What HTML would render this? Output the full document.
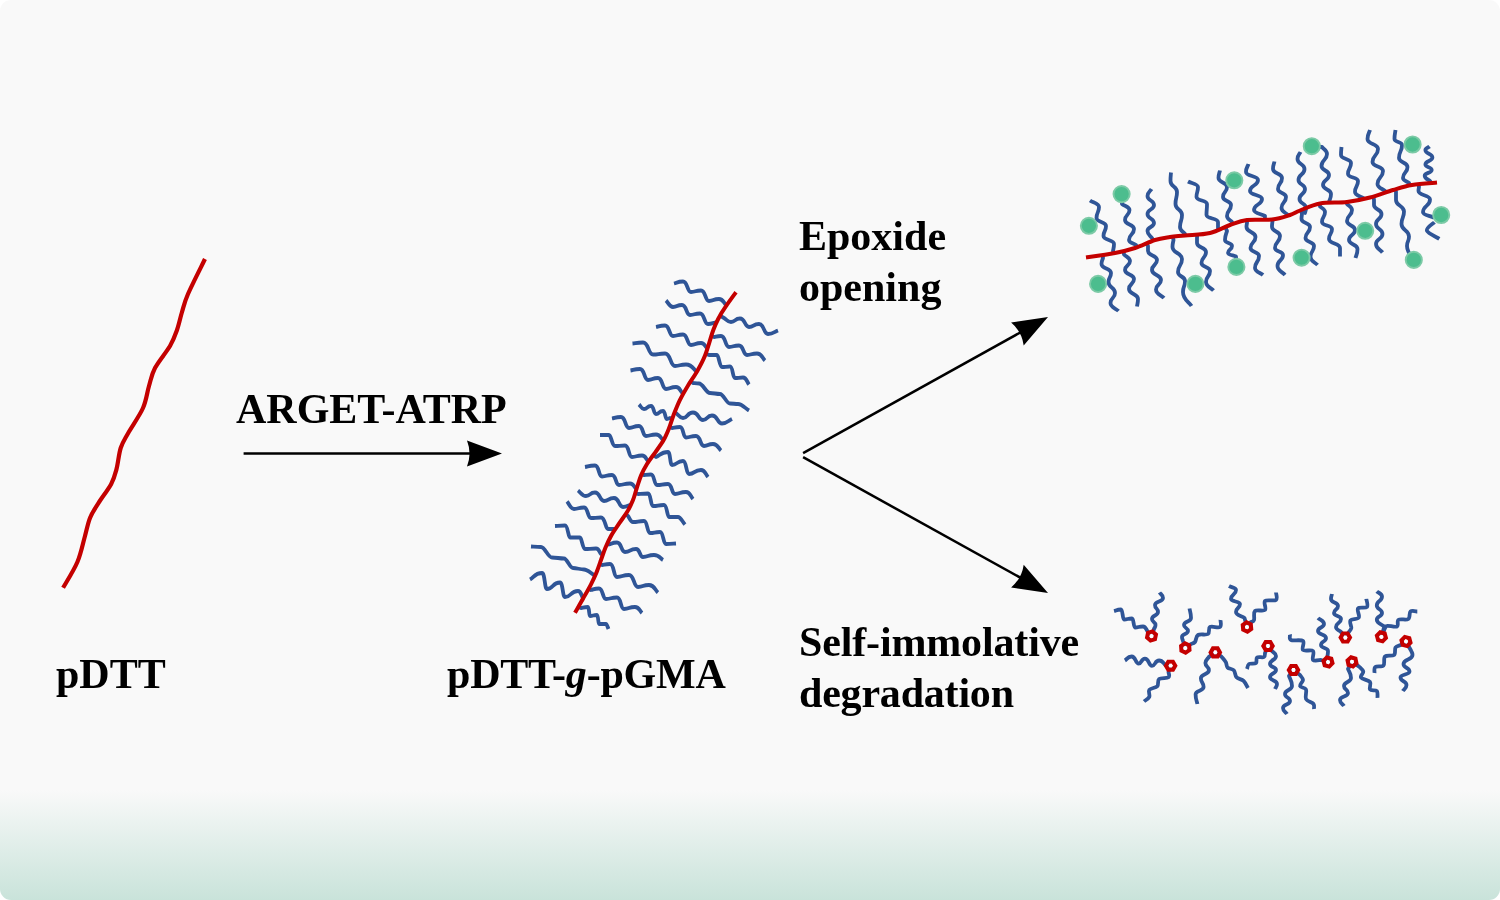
<!DOCTYPE html>
<html><head><meta charset="utf-8"><style>
html,body{margin:0;padding:0;background:#fff;width:1500px;height:900px;overflow:hidden}
.card{position:absolute;left:0;top:0;width:1500px;height:900px;border-radius:11px;overflow:hidden;
background:linear-gradient(to bottom,#f9f9f9 0px,#f9f9f9 790px,#c9e3da 900px)}
svg{position:absolute;left:0;top:0;will-change:transform}
svg text{font-family:"Liberation Serif",serif;font-weight:bold;font-size:42px;fill:#000}
</style></head><body>
<div class="card">
<svg width="1500" height="900" viewBox="0 0 1500 900">
<line x1="243.6" y1="453.4" x2="473.0" y2="453.4" stroke="#000" stroke-width="2.5"/><path d="M502.0,453.4 L467.0,466.4 Q472.0,453.4 467.0,440.4 Z" fill="#000"/>
<line x1="803.1" y1="453.1" x2="1022.7" y2="331.1" stroke="#000" stroke-width="2.5"/><path d="M1048.0,317.0 L1023.7,345.4 Q1021.8,331.6 1011.1,322.6 Z" fill="#000"/>
<line x1="803.1" y1="457.2" x2="1022.6" y2="578.9" stroke="#000" stroke-width="2.5"/><path d="M1048.0,593.0 L1011.1,587.4 Q1021.8,578.5 1023.7,564.7 Z" fill="#000"/>

<text x="236" y="423">ARGET-ATRP</text>
<text x="56" y="687.5">pDTT</text>
<text x="447" y="687.5" letter-spacing="-0.2">pDTT-<tspan font-style="italic">g</tspan>-pGMA</text>
<text x="799" y="249.5">Epoxide</text>
<text x="799" y="300.5">opening</text>
<text x="799" y="656" letter-spacing="-0.15">Self-immolative</text>
<text x="799" y="706.5" letter-spacing="-0.2">degradation</text>

<path d="M63.1,587.8 C65.5,583.5 73.8,570.5 77.4,562.0 C81.0,553.5 82.7,544.1 84.8,536.7 C86.9,529.3 87.8,523.3 90.1,517.7 C92.4,512.1 95.1,508.5 98.6,502.9 C102.1,497.3 108.2,489.5 111.2,483.9 C114.2,478.3 114.9,475.1 116.5,469.1 C118.1,463.1 118.8,454.0 120.7,448.0 C122.6,442.0 124.4,439.9 128.1,433.2 C131.8,426.5 139.5,415.9 143.0,408.0 C146.5,400.1 147.0,392.7 149.0,386.0 C151.0,379.3 151.5,374.7 155.0,368.0 C158.5,361.3 166.3,352.3 170.0,346.0 C173.7,339.7 175.0,335.7 177.0,330.0 C179.0,324.3 180.2,318.0 182.0,312.0 C183.8,306.0 184.2,302.8 188.0,294.0 C191.8,285.2 202.2,264.8 205.0,259.0" fill="none" stroke="#c40000" stroke-width="4.2" stroke-linecap="butt" stroke-linejoin="round"/>
<path d="M674.0,283.5 C677.0,282.8 677.6,281.5 683.0,281.5 C687.8,281.5 687.0,292.0 691.0,292.0 C696.0,292.0 695.0,290.5 701.0,290.5 C705.8,290.5 705.0,301.0 709.0,301.0 C714.0,301.0 713.0,299.0 719.0,299.0 C723.2,299.0 723.7,303.0 726.0,305.0 L726.4,305.5" fill="none" stroke="#2f5597" stroke-width="3.8" stroke-linecap="butt" stroke-linejoin="round"/>
<path d="M666.0,300.5 C668.3,302.6 669.5,307.0 673.0,307.0 C677.5,307.0 676.6,305.0 682.0,305.0 C686.8,305.0 686.0,315.0 690.0,315.0 C695.0,315.0 694.0,313.5 700.0,313.5 C704.8,313.5 704.0,324.0 708.0,324.0 C711.5,324.0 712.7,323.0 715.0,322.5 L716.1,323.2" fill="none" stroke="#2f5597" stroke-width="3.8" stroke-linecap="butt" stroke-linejoin="round"/>
<path d="M720.0,315.7 L724.0,318.0 C726.3,319.3 727.5,322.0 731.0,322.0 C735.5,322.0 734.6,318.5 740.0,318.5 C745.4,318.5 744.5,327.0 749.0,327.0 C754.0,327.0 753.0,324.0 759.0,324.0 C764.4,324.0 763.5,334.0 768.0,334.0 C773.0,334.0 774.7,331.7 778.0,330.5" fill="none" stroke="#2f5597" stroke-width="3.8" stroke-linecap="butt" stroke-linejoin="round"/>
<path d="M656.0,327.0 C659.0,326.5 659.6,325.5 665.0,325.5 C669.8,325.5 669.0,336.0 673.0,336.0 C678.0,336.0 677.0,334.5 683.0,334.5 C687.8,334.5 687.0,345.0 691.0,345.0 C696.0,345.0 695.0,343.0 701.0,343.0 C704.6,343.0 705.0,346.4 707.0,348.0 L707.6,348.1" fill="none" stroke="#2f5597" stroke-width="3.8" stroke-linecap="butt" stroke-linejoin="round"/>
<path d="M711.3,336.2 L714.0,337.0 C716.3,336.7 716.8,336.0 721.0,336.0 C725.8,336.0 725.0,347.0 729.0,347.0 C734.0,347.0 733.0,345.5 739.0,345.5 C743.8,345.5 743.0,355.0 747.0,355.0 C752.0,355.0 751.0,353.5 757.0,353.5 C761.8,353.5 762.4,358.2 765.0,360.5" fill="none" stroke="#2f5597" stroke-width="3.8" stroke-linecap="butt" stroke-linejoin="round"/>
<path d="M632.5,343.5 C636.0,343.2 636.7,342.5 643.0,342.5 C649.0,342.5 648.0,354.5 653.0,354.5 C659.0,354.5 657.8,353.5 665.0,353.5 C671.0,353.5 670.0,366.0 675.0,366.0 C680.5,366.0 679.4,364.5 686.0,364.5 C692.6,364.5 693.4,369.5 697.0,372.0" fill="none" stroke="#2f5597" stroke-width="3.8" stroke-linecap="butt" stroke-linejoin="round"/>
<path d="M705.8,353.8 L709.0,355.0 C711.6,355.0 714.1,355.0 717.0,355.0 C718.8,355.0 719.5,367.0 722.0,367.0 C726.0,367.0 725.2,366.5 730.0,366.5 C733.0,366.5 732.5,378.0 735.0,378.0 C739.0,378.0 738.2,377.5 743.0,377.5 C746.6,377.5 747.0,382.2 749.0,384.5" fill="none" stroke="#2f5597" stroke-width="3.8" stroke-linecap="butt" stroke-linejoin="round"/>
<path d="M630.5,370.5 C633.6,370.0 634.3,369.0 640.0,369.0 C644.8,369.0 644.0,380.0 648.0,380.0 C653.0,380.0 652.0,378.0 658.0,378.0 C662.8,378.0 662.0,389.0 666.0,389.0 C671.0,389.0 670.0,387.0 676.0,387.0 C679.6,387.0 680.0,390.7 682.0,392.5 L683.5,393.2" fill="none" stroke="#2f5597" stroke-width="3.8" stroke-linecap="butt" stroke-linejoin="round"/>
<path d="M690.7,381.3 L693.0,383.0 C695.0,383.2 696.8,383.5 699.0,383.5 C703.0,383.5 706.0,393.0 710.0,393.0 C713.6,393.0 716.4,394.0 720.0,394.0 C723.6,394.0 726.4,403.5 730.0,403.5 C732.9,403.5 735.1,404.0 738.0,404.0 C742.0,404.0 745.4,408.4 749.0,410.5" fill="none" stroke="#2f5597" stroke-width="3.8" stroke-linecap="butt" stroke-linejoin="round"/>
<path d="M639.0,404.5 C640.6,406.0 641.5,409.0 644.0,409.0 C647.5,409.0 646.8,406.0 651.0,406.0 C654.0,406.0 653.5,414.0 656.0,414.0 C659.5,414.0 658.8,411.0 663.0,411.0 C665.4,411.0 665.0,419.0 667.0,419.0 C668.5,419.0 669.0,418.3 670.0,418.0 L672.3,418.6" fill="none" stroke="#2f5597" stroke-width="3.8" stroke-linecap="butt" stroke-linejoin="round"/>
<path d="M674.6,412.4 L676.0,413.0 C678.3,414.6 679.5,418.0 683.0,418.0 C688.0,418.0 687.0,412.5 693.0,412.5 C699.0,412.5 698.0,420.0 703.0,420.0 C707.5,420.0 706.6,415.5 712.0,415.5 C718.0,415.5 717.0,423.5 722.0,423.5 C727.0,423.5 728.7,420.5 732.0,419.0" fill="none" stroke="#2f5597" stroke-width="3.8" stroke-linecap="butt" stroke-linejoin="round"/>
<path d="M612.0,418.5 C615.0,418.0 615.6,417.0 621.0,417.0 C625.8,417.0 625.0,428.0 629.0,428.0 C634.0,428.0 633.0,426.0 639.0,426.0 C643.2,426.0 642.5,436.0 646.0,436.0 C651.0,436.0 650.0,434.5 656.0,434.5 C660.2,434.5 660.7,438.2 663.0,440.0 L663.5,440.3" fill="none" stroke="#2f5597" stroke-width="3.8" stroke-linecap="butt" stroke-linejoin="round"/>
<path d="M669.5,427.0 L672.0,428.0 C674.6,427.7 675.2,427.0 680.0,427.0 C683.6,427.0 683.0,437.5 686.0,437.5 C691.0,437.5 690.0,436.0 696.0,436.0 C700.8,436.0 700.0,446.0 704.0,446.0 C708.5,446.0 707.6,444.0 713.0,444.0 C717.8,444.0 718.4,448.4 721.0,450.5" fill="none" stroke="#2f5597" stroke-width="3.8" stroke-linecap="butt" stroke-linejoin="round"/>
<path d="M600.0,435.0 C603.0,435.0 605.8,435.0 609.0,435.0 C611.2,435.0 612.0,446.0 615.0,446.0 C620.0,446.0 619.0,445.5 625.0,445.5 C629.2,445.5 628.5,457.0 632.0,457.0 C637.0,457.0 636.0,455.5 642.0,455.5 C645.6,455.5 646.0,459.2 648.0,461.0 L648.5,461.6" fill="none" stroke="#2f5597" stroke-width="3.8" stroke-linecap="butt" stroke-linejoin="round"/>
<path d="M653.2,455.2 L656.0,457.0 C660.0,455.4 660.8,452.0 668.0,452.0 C670.4,452.0 670.0,465.0 672.0,465.0 C677.5,465.0 676.4,461.0 683.0,461.0 C686.6,461.0 686.0,474.0 689.0,474.0 C695.0,474.0 693.8,470.0 701.0,470.0 C705.2,470.0 705.7,474.7 708.0,477.0" fill="none" stroke="#2f5597" stroke-width="3.8" stroke-linecap="butt" stroke-linejoin="round"/>
<path d="M585.0,467.0 C588.3,466.5 589.0,465.5 595.0,465.5 C599.2,465.5 598.5,476.5 602.0,476.5 C607.0,476.5 606.0,475.0 612.0,475.0 C616.2,475.0 615.5,485.0 619.0,485.0 C624.5,485.0 623.4,483.5 630.0,483.5 C633.6,483.5 634.0,486.9 636.0,488.5 L636.5,488.9" fill="none" stroke="#2f5597" stroke-width="3.8" stroke-linecap="butt" stroke-linejoin="round"/>
<path d="M641.8,473.8 L644.0,475.0 C646.3,474.8 646.8,474.5 651.0,474.5 C654.6,474.5 654.0,485.0 657.0,485.0 C662.5,485.0 661.4,484.0 668.0,484.0 C672.2,484.0 671.5,494.0 675.0,494.0 C680.5,494.0 679.4,492.0 686.0,492.0 C690.2,492.0 690.7,496.7 693.0,499.0" fill="none" stroke="#2f5597" stroke-width="3.8" stroke-linecap="butt" stroke-linejoin="round"/>
<path d="M578.0,490.5 C580.6,492.3 582.0,496.0 586.0,496.0 C590.5,496.0 589.6,492.5 595.0,492.5 C600.4,492.5 599.5,501.0 604.0,501.0 C609.0,501.0 608.0,498.0 614.0,498.0 C619.4,498.0 618.5,507.0 623.0,507.0 C626.5,507.0 627.7,505.7 630.0,505.0 L630.8,505.1" fill="none" stroke="#2f5597" stroke-width="3.8" stroke-linecap="butt" stroke-linejoin="round"/>
<path d="M635.2,493.3 L638.0,494.0 C641.3,493.8 642.0,493.5 648.0,493.5 C651.0,493.5 650.5,506.0 653.0,506.0 C658.5,506.0 657.4,505.0 664.0,505.0 C667.0,505.0 667.2,517.0 669.0,517.0 C672.2,517.0 674.8,517.0 678.0,517.0 C680.5,517.0 682.7,522.0 685.0,524.5" fill="none" stroke="#2f5597" stroke-width="3.8" stroke-linecap="butt" stroke-linejoin="round"/>
<path d="M567.0,501.5 C569.3,504.0 570.5,509.0 574.0,509.0 C579.0,509.0 578.0,507.5 584.0,507.5 C588.2,507.5 587.5,518.0 591.0,518.0 C596.0,518.0 595.0,517.5 601.0,517.5 C605.2,517.5 605.5,529.0 608.0,529.0 C610.2,529.0 612.0,529.0 614.0,529.0 L614.8,529.8" fill="none" stroke="#2f5597" stroke-width="3.8" stroke-linecap="butt" stroke-linejoin="round"/>
<path d="M625.8,514.1 L628.0,516.0 C629.6,518.0 630.5,522.0 633.0,522.0 C638.5,522.0 637.4,521.0 644.0,521.0 C647.6,521.0 647.0,533.0 650.0,533.0 C655.0,533.0 654.0,532.0 660.0,532.0 C663.6,532.0 663.0,544.0 666.0,544.0 C671.0,544.0 672.7,543.7 676.0,543.5" fill="none" stroke="#2f5597" stroke-width="3.8" stroke-linecap="butt" stroke-linejoin="round"/>
<path d="M555.0,526.0 C558.3,525.8 559.0,525.5 565.0,525.5 C568.0,525.5 568.2,537.5 570.0,537.5 C573.6,537.5 576.4,537.5 580.0,537.5 C581.8,537.5 582.5,549.0 585.0,549.0 C590.5,549.0 589.4,548.5 596.0,548.5 C599.0,548.5 599.4,552.2 601.0,554.0 L602.9,554.6" fill="none" stroke="#2f5597" stroke-width="3.8" stroke-linecap="butt" stroke-linejoin="round"/>
<path d="M607.1,543.8 L609.0,544.5 C611.6,543.8 612.2,542.5 617.0,542.5 C621.8,542.5 621.0,552.0 625.0,552.0 C630.5,552.0 629.4,549.0 636.0,549.0 C640.2,549.0 639.5,557.0 643.0,557.0 C648.5,557.0 647.4,555.0 654.0,555.0 C659.4,555.0 660.0,558.4 663.0,560.0" fill="none" stroke="#2f5597" stroke-width="3.8" stroke-linecap="butt" stroke-linejoin="round"/>
<path d="M531.0,546.5 C534.3,546.7 537.4,547.0 541.0,547.0 C545.0,547.0 548.0,557.5 552.0,557.5 C556.3,557.5 559.7,558.5 564.0,558.5 C567.2,558.5 569.8,568.0 573.0,568.0 C577.0,568.0 580.0,569.5 584.0,569.5 C587.6,569.5 590.7,573.2 594.0,575.0 L595.1,575.6" fill="none" stroke="#2f5597" stroke-width="3.8" stroke-linecap="butt" stroke-linejoin="round"/>
<path d="M599.5,564.2 L602.0,565.0 C604.6,564.7 605.2,564.0 610.0,564.0 C614.2,564.0 613.5,577.0 617.0,577.0 C623.0,577.0 621.8,575.0 629.0,575.0 C634.4,575.0 633.5,587.0 638.0,587.0 C643.5,587.0 642.4,585.0 649.0,585.0 C654.4,585.0 655.0,590.0 658.0,592.5" fill="none" stroke="#2f5597" stroke-width="3.8" stroke-linecap="butt" stroke-linejoin="round"/>
<path d="M530.0,579.5 C534.0,577.4 534.8,573.0 542.0,573.0 C545.0,573.0 544.5,589.0 547.0,589.0 C553.5,589.0 552.2,582.5 560.0,582.5 C563.0,582.5 562.5,597.0 565.0,597.0 C571.5,597.0 570.2,591.0 578.0,591.0 C581.0,591.0 581.4,595.7 583.0,598.0 L583.5,597.8" fill="none" stroke="#2f5597" stroke-width="3.8" stroke-linecap="butt" stroke-linejoin="round"/>
<path d="M588.6,588.9 L591.0,590.0 C593.6,589.5 594.2,588.5 599.0,588.5 C603.2,588.5 602.5,599.0 606.0,599.0 C611.5,599.0 610.4,597.5 617.0,597.5 C621.2,597.5 620.5,609.0 624.0,609.0 C629.5,609.0 628.4,607.0 635.0,607.0 C639.2,607.0 639.7,611.0 642.0,613.0" fill="none" stroke="#2f5597" stroke-width="3.8" stroke-linecap="butt" stroke-linejoin="round"/>
<path d="M578.3,606.9 L581.0,608.0 C583.3,607.7 583.8,607.0 588.0,607.0 C589.2,607.0 589.0,616.0 590.0,616.0 C593.5,616.0 592.8,615.0 597.0,615.0 C598.2,615.0 598.3,624.0 599.0,624.0 C601.5,624.0 603.5,624.0 606.0,624.0 C606.9,624.0 607.7,627.4 608.5,629.0" fill="none" stroke="#2f5597" stroke-width="3.8" stroke-linecap="butt" stroke-linejoin="round"/>
<path d="M736.0,292.3 C734.3,294.6 728.9,301.8 726.0,306.2 C723.0,310.5 720.4,314.7 718.3,318.7 C716.2,322.6 714.8,326.0 713.3,330.0 C711.8,334.0 710.7,338.2 709.3,342.6 C707.9,347.1 706.6,351.9 704.6,356.6 C702.7,361.4 700.1,366.1 697.3,371.0 C694.6,375.8 690.9,380.8 687.9,385.7 C684.9,390.7 682.0,395.7 679.6,400.6 C677.2,405.6 675.3,410.6 673.5,415.2 C671.8,419.8 670.7,424.1 669.0,428.3 C667.3,432.5 665.8,436.3 663.5,440.3 C661.2,444.3 658.1,448.4 655.3,452.3 C652.6,456.2 649.4,460.1 647.0,464.0 C644.6,467.9 642.7,471.6 641.0,475.6 C639.3,479.7 638.1,484.2 636.7,488.3 C635.3,492.5 634.4,496.7 632.8,500.6 C631.2,504.5 629.6,507.9 627.2,511.8 C624.9,515.6 621.7,519.6 619.0,523.7 C616.3,527.7 613.2,531.9 611.0,536.0 C608.7,540.1 607.0,544.0 605.3,548.0 C603.7,552.0 602.4,556.0 601.0,560.0 C599.6,564.0 598.3,567.9 596.7,572.0 C595.0,576.1 593.2,580.0 591.0,584.3 C588.8,588.6 586.2,593.1 583.5,597.8 C580.9,602.6 576.4,610.2 575.0,612.7" fill="none" stroke="#c40000" stroke-width="4.0" stroke-linecap="butt" stroke-linejoin="round"/>
<path d="M1090.0,200.5 C1093.0,202.6 1099.0,203.4 1099.0,207.0 C1099.0,213.1 1096.5,211.9 1096.5,218.0 C1096.5,222.4 1106.0,221.6 1106.0,226.0 C1106.0,231.5 1103.5,230.5 1103.5,236.0 C1103.5,240.4 1114.0,239.6 1114.0,244.0 C1114.0,247.8 1113.3,248.7 1113.0,251.0 L1113.7,253.2" fill="none" stroke="#2f5597" stroke-width="3.8" stroke-linecap="butt" stroke-linejoin="round"/>
<path d="M1102.7,255.1 L1103.0,258.0 C1102.5,260.0 1101.5,260.7 1101.5,264.0 C1101.5,268.9 1111.0,268.1 1111.0,273.0 C1111.0,277.9 1108.5,277.1 1108.5,282.0 C1108.5,288.1 1115.0,286.9 1115.0,293.0 C1115.0,298.5 1110.5,297.5 1110.5,303.0 C1110.5,307.4 1115.9,308.4 1118.5,311.0" fill="none" stroke="#2f5597" stroke-width="3.8" stroke-linecap="butt" stroke-linejoin="round"/>
<path d="M1121.6,194.1 L1122.0,204.0 C1124.5,206.0 1129.5,206.7 1129.5,210.0 C1129.5,215.5 1125.0,214.5 1125.0,220.0 C1125.0,224.9 1134.0,224.1 1134.0,229.0 C1134.0,235.1 1129.0,233.9 1129.0,240.0 C1129.0,242.8 1133.7,243.3 1136.0,245.0 L1137.0,247.3" fill="none" stroke="#2f5597" stroke-width="3.8" stroke-linecap="butt" stroke-linejoin="round"/>
<path d="M1123.6,251.2 L1124.0,254.5 C1126.0,256.6 1130.0,257.4 1130.0,261.0 C1130.0,265.9 1125.0,265.1 1125.0,270.0 C1125.0,274.9 1134.0,274.1 1134.0,279.0 C1134.0,284.5 1129.0,283.5 1129.0,289.0 C1129.0,294.5 1138.0,293.5 1138.0,299.0 C1138.0,303.1 1137.3,304.0 1137.0,306.5" fill="none" stroke="#2f5597" stroke-width="3.8" stroke-linecap="butt" stroke-linejoin="round"/>
<path d="M1151.5,189.0 C1150.2,191.3 1147.5,192.2 1147.5,196.0 C1147.5,200.9 1154.0,200.1 1154.0,205.0 C1154.0,209.9 1147.5,209.1 1147.5,214.0 C1147.5,218.9 1154.0,218.1 1154.0,223.0 C1154.0,227.4 1147.5,226.6 1147.5,231.0 C1147.5,234.8 1150.5,235.7 1152.0,238.0 L1153.2,240.6" fill="none" stroke="#2f5597" stroke-width="3.8" stroke-linecap="butt" stroke-linejoin="round"/>
<path d="M1146.3,243.4 L1148.0,246.0 C1148.0,247.7 1148.0,248.2 1148.0,251.0 C1148.0,255.9 1157.0,255.1 1157.0,260.0 C1157.0,265.5 1152.0,264.5 1152.0,270.0 C1152.0,275.5 1161.0,274.5 1161.0,280.0 C1161.0,285.2 1156.0,284.3 1156.0,289.5 C1156.0,294.2 1161.4,295.2 1164.0,298.0" fill="none" stroke="#2f5597" stroke-width="3.8" stroke-linecap="butt" stroke-linejoin="round"/>
<path d="M1171.0,172.5 C1170.8,175.3 1170.5,176.3 1170.5,181.0 C1170.5,187.1 1177.0,185.9 1177.0,192.0 C1177.0,198.6 1175.5,197.4 1175.5,204.0 C1175.5,210.1 1182.0,208.9 1182.0,215.0 C1182.0,221.6 1180.0,220.4 1180.0,227.0 C1180.0,230.8 1183.3,231.7 1185.0,234.0 L1185.0,235.5" fill="none" stroke="#2f5597" stroke-width="3.8" stroke-linecap="butt" stroke-linejoin="round"/>
<path d="M1172.8,236.6 L1173.5,240.0 C1173.2,242.3 1172.5,243.2 1172.5,247.0 C1172.5,253.6 1182.0,252.4 1182.0,259.0 C1182.0,266.1 1178.0,264.9 1178.0,272.0 C1178.0,276.9 1185.0,276.1 1185.0,281.0 C1185.0,287.1 1183.0,285.9 1183.0,292.0 C1183.0,299.7 1188.7,301.4 1191.5,306.0" fill="none" stroke="#2f5597" stroke-width="3.8" stroke-linecap="butt" stroke-linejoin="round"/>
<path d="M1188.0,181.5 C1191.3,183.3 1198.0,184.0 1198.0,187.0 C1198.0,192.5 1196.5,191.5 1196.5,197.0 C1196.5,200.8 1207.0,200.2 1207.0,204.0 C1207.0,210.1 1206.5,208.9 1206.5,215.0 C1206.5,218.8 1218.0,218.2 1218.0,222.0 C1218.0,225.3 1218.0,226.0 1218.0,228.0 L1218.5,230.1" fill="none" stroke="#2f5597" stroke-width="3.8" stroke-linecap="butt" stroke-linejoin="round"/>
<path d="M1197.2,234.7 L1197.0,238.0 C1197.0,239.7 1197.0,240.2 1197.0,243.0 C1197.0,247.9 1206.0,247.1 1206.0,252.0 C1206.0,258.1 1201.5,256.9 1201.5,263.0 C1201.5,267.4 1210.0,266.6 1210.0,271.0 C1210.0,277.1 1206.0,275.9 1206.0,282.0 C1206.0,286.7 1211.0,287.7 1213.5,290.5" fill="none" stroke="#2f5597" stroke-width="3.8" stroke-linecap="butt" stroke-linejoin="round"/>
<path d="M1220.0,170.5 C1219.5,173.0 1218.5,173.9 1218.5,178.0 C1218.5,182.9 1227.0,182.1 1227.0,187.0 C1227.0,192.5 1223.0,191.5 1223.0,197.0 C1223.0,201.4 1231.0,200.6 1231.0,205.0 C1231.0,211.1 1227.0,209.9 1227.0,216.0 C1227.0,219.3 1230.3,220.0 1232.0,222.0 L1232.6,224.0" fill="none" stroke="#2f5597" stroke-width="3.8" stroke-linecap="butt" stroke-linejoin="round"/>
<path d="M1225.3,226.9 L1227.0,231.0 C1226.3,234.0 1225.0,235.1 1225.0,240.0 C1225.0,243.3 1232.0,242.7 1232.0,246.0 C1232.0,249.8 1228.0,249.2 1228.0,253.0 C1228.0,254.9 1233.4,255.3 1236.0,256.5 L1236.4,266.9" fill="none" stroke="#2f5597" stroke-width="3.8" stroke-linecap="butt" stroke-linejoin="round"/>
<path d="M1248.5,164.0 C1247.7,166.6 1246.0,167.6 1246.0,172.0 C1246.0,176.4 1258.0,175.6 1258.0,180.0 C1258.0,186.1 1250.0,184.9 1250.0,191.0 C1250.0,195.4 1262.0,194.6 1262.0,199.0 C1262.0,205.1 1254.0,203.9 1254.0,210.0 C1254.0,213.3 1261.4,214.0 1265.0,216.0 L1264.8,219.8" fill="none" stroke="#2f5597" stroke-width="3.8" stroke-linecap="butt" stroke-linejoin="round"/>
<path d="M1247.0,220.0 L1247.0,223.0 C1246.8,224.3 1246.5,224.8 1246.5,227.0 C1246.5,232.5 1255.5,231.5 1255.5,237.0 C1255.5,243.1 1250.5,241.9 1250.5,248.0 C1250.5,252.4 1259.0,251.6 1259.0,256.0 C1259.0,262.6 1255.0,261.4 1255.0,268.0 C1255.0,271.9 1260.4,272.7 1263.0,275.0" fill="none" stroke="#2f5597" stroke-width="3.8" stroke-linecap="butt" stroke-linejoin="round"/>
<path d="M1274.5,161.5 C1274.0,164.0 1273.0,164.9 1273.0,169.0 C1273.0,173.9 1282.0,173.1 1282.0,178.0 C1282.0,184.1 1278.0,182.9 1278.0,189.0 C1278.0,193.4 1286.0,192.6 1286.0,197.0 C1286.0,203.1 1281.5,201.9 1281.5,208.0 C1281.5,211.8 1285.9,212.7 1288.0,215.0 L1288.6,215.5" fill="none" stroke="#2f5597" stroke-width="3.8" stroke-linecap="butt" stroke-linejoin="round"/>
<path d="M1272.0,219.5 L1272.5,221.0 C1272.3,223.0 1272.0,223.7 1272.0,227.0 C1272.0,231.9 1280.0,231.1 1280.0,236.0 C1280.0,242.6 1275.0,241.4 1275.0,248.0 C1275.0,251.8 1283.0,251.2 1283.0,255.0 C1283.0,261.1 1277.5,259.9 1277.5,266.0 C1277.5,270.9 1282.5,272.0 1285.0,275.0" fill="none" stroke="#2f5597" stroke-width="3.8" stroke-linecap="butt" stroke-linejoin="round"/>
<path d="M1300.5,152.0 C1299.5,154.3 1297.5,155.2 1297.5,159.0 C1297.5,164.5 1304.5,163.5 1304.5,169.0 C1304.5,175.1 1298.5,173.9 1298.5,180.0 C1298.5,184.9 1305.0,184.1 1305.0,189.0 C1305.0,194.5 1299.5,193.5 1299.5,199.0 C1299.5,203.9 1306.0,203.1 1306.0,208.0 C1306.0,210.8 1305.3,211.3 1305.0,213.0 L1303.2,209.2" fill="none" stroke="#2f5597" stroke-width="3.8" stroke-linecap="butt" stroke-linejoin="round"/>
<path d="M1300.8,210.2 L1302.0,214.0 C1301.8,215.7 1301.5,216.2 1301.5,219.0 C1301.5,223.4 1310.0,222.6 1310.0,227.0 C1310.0,233.1 1305.5,231.9 1305.5,238.0 C1305.5,242.4 1314.0,241.6 1314.0,246.0 C1314.0,252.1 1310.5,250.9 1310.5,257.0 C1310.5,261.4 1315.2,262.4 1317.5,265.0" fill="none" stroke="#2f5597" stroke-width="3.8" stroke-linecap="butt" stroke-linejoin="round"/>
<path d="M1311.8,146.2 L1322.0,147.0 C1323.7,149.3 1327.0,150.2 1327.0,154.0 C1327.0,160.6 1321.5,159.4 1321.5,166.0 C1321.5,170.9 1329.0,170.1 1329.0,175.0 C1329.0,180.5 1323.0,179.5 1323.0,185.0 C1323.0,189.9 1331.0,189.1 1331.0,194.0 C1331.0,198.4 1329.7,199.4 1329.0,202.0 L1329.1,202.7" fill="none" stroke="#2f5597" stroke-width="3.8" stroke-linecap="butt" stroke-linejoin="round"/>
<path d="M1320.0,203.5 L1320.0,206.5 C1321.7,208.3 1325.0,209.0 1325.0,212.0 C1325.0,217.5 1322.0,216.5 1322.0,222.0 C1322.0,225.8 1332.0,225.2 1332.0,229.0 C1332.0,234.5 1329.0,233.5 1329.0,239.0 C1329.0,243.9 1340.0,243.1 1340.0,248.0 C1340.0,252.7 1340.0,253.7 1340.0,256.5" fill="none" stroke="#2f5597" stroke-width="3.8" stroke-linecap="butt" stroke-linejoin="round"/>
<path d="M1341.5,147.0 C1341.3,149.6 1341.0,150.6 1341.0,155.0 C1341.0,159.4 1351.0,158.6 1351.0,163.0 C1351.0,169.1 1348.0,167.9 1348.0,174.0 C1348.0,177.8 1358.0,177.2 1358.0,181.0 C1358.0,187.1 1355.0,185.9 1355.0,192.0 C1355.0,195.6 1361.0,196.4 1364.0,198.5 L1364.3,198.9" fill="none" stroke="#2f5597" stroke-width="3.8" stroke-linecap="butt" stroke-linejoin="round"/>
<path d="M1347.0,202.0 L1347.0,204.0 C1348.7,206.0 1352.0,206.7 1352.0,210.0 C1352.0,216.1 1347.0,214.9 1347.0,221.0 C1347.0,225.9 1355.0,225.1 1355.0,230.0 C1355.0,235.5 1349.0,234.5 1349.0,240.0 C1349.0,244.9 1357.5,244.1 1357.5,249.0 C1357.5,253.9 1356.2,255.0 1355.5,258.0" fill="none" stroke="#2f5597" stroke-width="3.8" stroke-linecap="butt" stroke-linejoin="round"/>
<path d="M1370.0,130.0 C1369.2,133.0 1367.5,134.1 1367.5,139.0 C1367.5,144.5 1378.0,143.5 1378.0,149.0 C1378.0,156.2 1372.5,154.8 1372.5,162.0 C1372.5,166.9 1383.0,166.1 1383.0,171.0 C1383.0,178.2 1377.5,176.8 1377.5,184.0 C1377.5,187.8 1382.5,188.7 1385.0,191.0 L1385.2,192.6" fill="none" stroke="#2f5597" stroke-width="3.8" stroke-linecap="butt" stroke-linejoin="round"/>
<path d="M1373.5,196.5 L1374.0,200.0 C1374.0,201.7 1374.0,202.2 1374.0,205.0 C1374.0,209.9 1381.5,209.1 1381.5,214.0 C1381.5,219.5 1376.0,218.5 1376.0,224.0 C1376.0,229.5 1382.5,228.5 1382.5,234.0 C1382.5,239.5 1376.0,238.5 1376.0,244.0 C1376.0,248.7 1380.4,249.7 1382.5,252.5" fill="none" stroke="#2f5597" stroke-width="3.8" stroke-linecap="butt" stroke-linejoin="round"/>
<path d="M1395.5,130.0 C1395.2,133.0 1394.5,134.1 1394.5,139.0 C1394.5,142.3 1402.0,141.7 1402.0,145.0 C1402.0,152.2 1399.0,150.8 1399.0,158.0 C1399.0,162.9 1407.5,162.1 1407.5,167.0 C1407.5,173.1 1403.0,171.9 1403.0,178.0 C1403.0,180.8 1407.0,181.3 1409.0,183.0 L1409.9,185.4" fill="none" stroke="#2f5597" stroke-width="3.8" stroke-linecap="butt" stroke-linejoin="round"/>
<path d="M1395.0,189.4 L1396.0,191.5 C1396.0,194.3 1396.0,195.3 1396.0,200.0 C1396.0,206.3 1404.0,205.2 1404.0,211.5 C1404.0,218.4 1401.5,217.1 1401.5,224.0 C1401.5,230.9 1409.0,229.6 1409.0,236.5 C1409.0,241.7 1407.0,240.8 1407.0,246.0 C1407.0,249.8 1408.3,250.7 1409.0,253.0 L1413.8,259.9" fill="none" stroke="#2f5597" stroke-width="3.8" stroke-linecap="butt" stroke-linejoin="round"/>
<path d="M1429.6,146.5 C1428.2,147.7 1425.4,148.1 1425.4,150.0 C1425.4,154.2 1432.4,153.4 1432.4,157.6 C1432.4,161.4 1425.4,160.8 1425.4,164.6 C1425.4,167.6 1431.7,167.0 1431.7,170.0 C1431.7,173.1 1424.7,172.6 1424.7,175.7 C1424.7,178.8 1428.5,179.5 1430.3,181.3 L1429.9,183.2" fill="none" stroke="#2f5597" stroke-width="3.8" stroke-linecap="butt" stroke-linejoin="round"/>
<path d="M1418.4,184.2 L1419.0,187.0 C1418.8,188.3 1418.5,188.8 1418.5,191.0 C1418.5,195.7 1430.0,194.8 1430.0,199.5 C1430.0,206.5 1423.0,205.3 1423.0,212.3 C1423.0,215.1 1429.7,215.7 1433.0,217.4 L1441.2,215.0" fill="none" stroke="#2f5597" stroke-width="3.8" stroke-linecap="butt" stroke-linejoin="round"/>
<path d="M1434.4,222.2 C1433.1,223.6 1426.0,227.8 1426.8,230.6 C1427.6,233.4 1437.2,237.5 1439.3,238.9" fill="none" stroke="#2f5597" stroke-width="3.8" stroke-linecap="butt" stroke-linejoin="round"/>
<path d="M1086.0,257.5 C1090.8,256.8 1106.8,254.6 1115.0,253.0 C1123.2,251.4 1128.3,250.2 1135.0,248.0 C1141.7,245.8 1149.2,241.8 1155.0,240.0 C1160.8,238.2 1165.0,237.8 1170.0,237.0 C1175.0,236.2 1178.3,236.2 1185.0,235.5 C1191.7,234.8 1202.5,234.8 1210.0,233.0 C1217.5,231.2 1223.8,227.2 1230.0,225.0 C1236.2,222.8 1240.0,220.9 1247.0,220.0 C1254.0,219.1 1264.8,220.3 1272.0,219.5 C1279.2,218.7 1285.3,216.5 1290.0,215.0 C1294.7,213.5 1295.0,212.4 1300.0,210.5 C1305.0,208.6 1312.2,204.9 1320.0,203.5 C1327.8,202.1 1338.7,203.0 1347.0,202.0 C1355.3,201.0 1362.3,199.5 1370.0,197.5 C1377.7,195.5 1386.0,192.1 1393.0,190.0 C1400.0,187.9 1404.7,186.2 1412.0,185.0 C1419.3,183.8 1432.8,183.0 1437.0,182.6" fill="none" stroke="#c40000" stroke-width="4.0" stroke-linecap="butt" stroke-linejoin="round"/>
<circle cx="1088.9" cy="225.8" r="8.1" fill="#4cbd8e" stroke="#7ccaa6" stroke-width="1.9"/>
<circle cx="1121.6" cy="194.1" r="8.1" fill="#4cbd8e" stroke="#7ccaa6" stroke-width="1.9"/>
<circle cx="1098.1" cy="283.9" r="8.1" fill="#4cbd8e" stroke="#7ccaa6" stroke-width="1.9"/>
<circle cx="1195.4" cy="283.9" r="8.1" fill="#4cbd8e" stroke="#7ccaa6" stroke-width="1.9"/>
<circle cx="1234.3" cy="180.3" r="8.1" fill="#4cbd8e" stroke="#7ccaa6" stroke-width="1.9"/>
<circle cx="1236.4" cy="266.9" r="8.1" fill="#4cbd8e" stroke="#7ccaa6" stroke-width="1.9"/>
<circle cx="1311.8" cy="146.2" r="8.1" fill="#4cbd8e" stroke="#7ccaa6" stroke-width="1.9"/>
<circle cx="1301.6" cy="257.7" r="8.1" fill="#4cbd8e" stroke="#7ccaa6" stroke-width="1.9"/>
<circle cx="1365.2" cy="230.8" r="8.1" fill="#4cbd8e" stroke="#7ccaa6" stroke-width="1.9"/>
<circle cx="1412.6" cy="144.5" r="8.1" fill="#4cbd8e" stroke="#7ccaa6" stroke-width="1.9"/>
<circle cx="1441.2" cy="215" r="8.1" fill="#4cbd8e" stroke="#7ccaa6" stroke-width="1.9"/>
<circle cx="1413.8" cy="259.9" r="8.1" fill="#4cbd8e" stroke="#7ccaa6" stroke-width="1.9"/>
<path d="M1114.0,611.0 C1116.3,610.5 1116.8,609.5 1121.0,609.5 C1122.8,609.5 1122.5,619.5 1124.0,619.5 C1128.0,619.5 1127.2,618.5 1132.0,618.5 C1133.8,618.5 1133.5,627.5 1135.0,627.5 C1139.0,627.5 1138.2,626.5 1143.0,626.5 C1146.0,626.5 1146.3,630.2 1148.0,632.0 L1151.5,636.0" fill="none" stroke="#2f5597" stroke-width="3.8" stroke-linecap="butt" stroke-linejoin="round"/>
<path d="M1159.5,592.5 C1160.7,594.3 1163.0,595.0 1163.0,598.0 C1163.0,601.9 1155.0,601.1 1155.0,605.0 C1155.0,608.9 1158.0,608.1 1158.0,612.0 C1158.0,615.9 1152.0,615.1 1152.0,619.0 C1152.0,622.3 1155.5,621.7 1155.5,625.0 C1155.5,627.2 1154.5,627.7 1154.0,629.0 L1151.5,636.0" fill="none" stroke="#2f5597" stroke-width="3.8" stroke-linecap="butt" stroke-linejoin="round"/>
<path d="M1189.5,608.5 C1190.0,611.6 1191.0,612.8 1191.0,618.0 C1191.0,621.9 1184.0,621.1 1184.0,625.0 C1184.0,628.3 1188.0,627.7 1188.0,631.0 C1188.0,634.3 1182.0,633.7 1182.0,637.0 C1182.0,639.2 1182.7,639.7 1183.0,641.0 L1185.3,648.0" fill="none" stroke="#2f5597" stroke-width="3.8" stroke-linecap="butt" stroke-linejoin="round"/>
<path d="M1220.5,620.0 C1220.4,621.2 1221.8,625.8 1220.0,627.0 C1218.2,628.2 1212.0,625.8 1210.0,627.0 C1208.0,628.2 1210.0,632.7 1208.0,634.0 C1206.0,635.3 1200.2,633.7 1198.0,635.0 C1195.8,636.3 1196.2,640.5 1195.0,642.0 C1193.8,643.5 1191.7,643.7 1191.0,644.0 L1185.3,648.0" fill="none" stroke="#2f5597" stroke-width="3.8" stroke-linecap="butt" stroke-linejoin="round"/>
<path d="M1229.0,586.0 C1231.3,587.3 1236.0,587.8 1236.0,590.0 C1236.0,595.0 1231.0,594.0 1231.0,599.0 C1231.0,601.8 1240.0,601.2 1240.0,604.0 C1240.0,608.4 1236.0,607.6 1236.0,612.0 C1236.0,615.3 1241.7,616.0 1244.5,618.0 L1247.0,627.0" fill="none" stroke="#2f5597" stroke-width="3.8" stroke-linecap="butt" stroke-linejoin="round"/>
<path d="M1276.0,592.5 C1276.0,593.8 1277.8,598.6 1276.0,600.0 C1274.2,601.4 1266.8,599.3 1265.0,601.0 C1263.2,602.7 1266.7,608.3 1265.0,610.0 C1263.3,611.7 1256.8,609.3 1255.0,611.0 C1253.2,612.7 1254.7,618.2 1254.0,620.0 C1253.3,621.8 1251.5,621.7 1251.0,622.0 L1247.0,627.0" fill="none" stroke="#2f5597" stroke-width="3.8" stroke-linecap="butt" stroke-linejoin="round"/>
<path d="M1124.9,660.5 C1127.1,659.2 1127.6,656.5 1131.6,656.5 C1135.9,656.5 1135.2,663.6 1138.7,663.6 C1141.8,663.6 1141.2,658.7 1144.9,658.7 C1149.2,658.7 1148.5,665.8 1152.0,665.8 C1155.5,665.8 1154.8,660.5 1159.1,660.5 C1162.8,660.5 1163.3,663.4 1165.3,664.9 L1170.6,665.7" fill="none" stroke="#2f5597" stroke-width="3.8" stroke-linecap="butt" stroke-linejoin="round"/>
<path d="M1170.6,665.7 L1168.5,672.0 C1168.5,672.9 1170.1,676.1 1168.5,677.3 C1166.9,678.5 1161.0,677.6 1159.1,679.1 C1157.2,680.6 1158.9,684.4 1157.3,686.2 C1155.7,688.0 1150.6,688.0 1149.3,689.8 C1148.0,691.6 1150.2,695.0 1149.3,696.9 C1148.4,698.8 1144.9,700.6 1144.0,701.4" fill="none" stroke="#2f5597" stroke-width="3.8" stroke-linecap="butt" stroke-linejoin="round"/>
<path d="M1215.3,652.4 L1208.9,656.9 C1207.7,658.9 1205.4,659.7 1205.4,663.1 C1205.4,667.0 1208.9,666.3 1208.9,670.2 C1208.9,674.6 1200.9,673.8 1200.9,678.2 C1200.9,683.1 1203.6,682.2 1203.6,687.1 C1203.6,691.0 1195.6,690.3 1195.6,694.2 C1195.6,699.6 1196.8,700.8 1197.4,704.0" fill="none" stroke="#2f5597" stroke-width="3.8" stroke-linecap="butt" stroke-linejoin="round"/>
<path d="M1215.3,652.4 L1221.4,656.5 C1222.1,657.5 1224.8,660.4 1225.8,662.2 C1226.8,664.1 1226.3,666.3 1227.6,667.6 C1228.9,668.9 1232.3,668.6 1233.8,670.2 C1235.3,671.8 1234.9,675.5 1236.5,677.3 C1238.1,679.1 1241.7,679.1 1243.6,680.9 C1245.5,682.7 1247.3,686.8 1248.0,688.0" fill="none" stroke="#2f5597" stroke-width="3.8" stroke-linecap="butt" stroke-linejoin="round"/>
<path d="M1268.0,646.0 L1265.0,653.0 C1264.8,653.7 1265.3,656.2 1264.0,657.0 C1262.7,657.8 1258.3,656.5 1257.0,657.5 C1255.7,658.5 1257.3,661.9 1256.0,663.0 C1254.7,664.1 1250.5,663.0 1249.0,664.0 C1247.5,665.0 1247.3,668.2 1247.0,669.0" fill="none" stroke="#2f5597" stroke-width="3.8" stroke-linecap="butt" stroke-linejoin="round"/>
<path d="M1268.0,646.0 L1272.0,651.0 C1273.3,652.6 1276.0,653.2 1276.0,656.0 C1276.0,660.4 1270.0,659.6 1270.0,664.0 C1270.0,667.3 1276.0,666.7 1276.0,670.0 C1276.0,673.9 1270.0,673.1 1270.0,677.0 C1270.0,680.9 1277.0,680.1 1277.0,684.0 C1277.0,686.8 1275.7,687.4 1275.0,689.0" fill="none" stroke="#2f5597" stroke-width="3.8" stroke-linecap="butt" stroke-linejoin="round"/>
<path d="M1293.5,670.0 L1289.0,676.0 C1290.0,679.3 1292.0,680.5 1292.0,686.0 C1292.0,690.4 1285.0,689.6 1285.0,694.0 C1285.0,697.9 1290.0,697.1 1290.0,701.0 C1290.0,704.9 1283.0,704.1 1283.0,708.0 C1283.0,711.3 1285.7,712.0 1287.0,714.0" fill="none" stroke="#2f5597" stroke-width="3.8" stroke-linecap="butt" stroke-linejoin="round"/>
<path d="M1293.5,670.0 L1300.0,675.0 C1300.5,675.8 1303.0,678.2 1303.0,680.0 C1303.0,681.8 1299.5,684.4 1300.0,686.0 C1300.5,687.6 1305.0,687.3 1306.0,689.5 C1307.0,691.7 1304.8,696.6 1306.0,699.0 C1307.2,701.4 1312.2,702.3 1313.5,704.0 C1314.8,705.7 1313.9,708.2 1314.0,709.0" fill="none" stroke="#2f5597" stroke-width="3.8" stroke-linecap="butt" stroke-linejoin="round"/>
<path d="M1290.0,634.5 C1290.2,635.4 1288.8,638.9 1291.0,640.0 C1293.2,641.1 1301.0,639.3 1303.0,641.0 C1305.0,642.7 1301.3,648.3 1303.0,650.0 C1304.7,651.7 1311.3,649.3 1313.0,651.0 C1314.7,652.7 1311.7,658.5 1313.0,660.0 C1314.3,661.5 1319.7,660.0 1321.0,660.0 L1328.0,662.0" fill="none" stroke="#2f5597" stroke-width="3.8" stroke-linecap="butt" stroke-linejoin="round"/>
<path d="M1318.0,618.0 C1320.0,620.0 1324.0,620.7 1324.0,624.0 C1324.0,627.9 1318.0,627.1 1318.0,631.0 C1318.0,634.9 1326.0,634.1 1326.0,638.0 C1326.0,641.9 1321.0,641.1 1321.0,645.0 C1321.0,648.3 1328.0,647.7 1328.0,651.0 C1328.0,653.8 1327.7,654.4 1327.5,656.0 L1328.0,662.0" fill="none" stroke="#2f5597" stroke-width="3.8" stroke-linecap="butt" stroke-linejoin="round"/>
<path d="M1332.0,594.0 C1331.7,595.6 1331.0,596.2 1331.0,599.0 C1331.0,602.9 1338.0,602.1 1338.0,606.0 C1338.0,609.9 1334.0,609.1 1334.0,613.0 C1334.0,616.3 1341.0,615.7 1341.0,619.0 C1341.0,623.4 1336.0,622.6 1336.0,627.0 C1336.0,629.8 1339.3,630.4 1341.0,632.0 L1345.3,637.5" fill="none" stroke="#2f5597" stroke-width="3.8" stroke-linecap="butt" stroke-linejoin="round"/>
<path d="M1366.3,598.8 C1366.4,600.2 1368.4,605.4 1367.0,607.0 C1365.6,608.6 1359.4,606.8 1358.0,608.5 C1356.6,610.2 1360.0,615.5 1358.8,617.5 C1357.5,619.5 1351.8,618.8 1350.5,620.5 C1349.2,622.2 1351.5,626.1 1351.3,628.0 C1351.0,629.9 1349.4,631.2 1349.0,631.8 L1345.3,637.5" fill="none" stroke="#2f5597" stroke-width="3.8" stroke-linecap="butt" stroke-linejoin="round"/>
<path d="M1352.0,661.8 L1348.0,669.0 C1349.0,672.0 1351.0,673.0 1351.0,678.0 C1351.0,682.4 1344.0,681.6 1344.0,686.0 C1344.0,689.9 1348.0,689.1 1348.0,693.0 C1348.0,696.9 1340.0,696.1 1340.0,700.0 C1340.0,703.3 1342.7,704.0 1344.0,706.0" fill="none" stroke="#2f5597" stroke-width="3.8" stroke-linecap="butt" stroke-linejoin="round"/>
<path d="M1352.0,661.8 L1358.8,666.3 C1359.5,667.2 1362.9,669.6 1363.3,671.5 C1363.7,673.4 1359.9,675.8 1361.0,677.5 C1362.1,679.2 1368.5,680.0 1370.0,682.0 C1371.5,684.0 1368.9,688.0 1370.0,689.5 C1371.1,691.0 1375.5,689.6 1376.8,691.0 C1378.0,692.4 1377.4,696.7 1377.5,697.8" fill="none" stroke="#2f5597" stroke-width="3.8" stroke-linecap="butt" stroke-linejoin="round"/>
<path d="M1376.8,591.3 C1378.5,593.0 1382.0,593.6 1382.0,596.5 C1382.0,601.5 1376.8,600.5 1376.8,605.5 C1376.8,609.6 1382.0,608.9 1382.0,613.0 C1382.0,616.7 1376.8,616.1 1376.8,619.8 C1376.8,623.5 1381.8,624.3 1384.3,626.5 L1381.4,636.8" fill="none" stroke="#2f5597" stroke-width="3.8" stroke-linecap="butt" stroke-linejoin="round"/>
<path d="M1417.3,611.5 C1416.2,611.5 1412.0,610.2 1410.5,611.5 C1409.0,612.8 1410.3,617.6 1408.3,619.0 C1406.3,620.4 1400.4,618.5 1398.5,619.8 C1396.6,621.0 1398.9,625.5 1397.0,626.5 C1395.1,627.5 1389.3,625.5 1387.3,625.8 C1385.3,626.0 1385.4,627.6 1385.0,628.0 L1381.4,636.8" fill="none" stroke="#2f5597" stroke-width="3.8" stroke-linecap="butt" stroke-linejoin="round"/>
<path d="M1406.0,641.5 L1400.0,645.3 C1399.2,645.7 1396.5,645.9 1395.5,647.5 C1394.5,649.1 1395.8,653.5 1394.0,655.0 C1392.2,656.5 1386.8,654.8 1385.0,656.5 C1383.2,658.2 1385.1,663.8 1383.5,665.5 C1381.9,667.2 1376.8,665.8 1375.3,667.0 C1373.8,668.2 1374.6,672.0 1374.5,673.0" fill="none" stroke="#2f5597" stroke-width="3.8" stroke-linecap="butt" stroke-linejoin="round"/>
<path d="M1406.0,641.5 L1411.0,650.5 C1411.5,652.0 1412.5,652.5 1412.5,655.0 C1412.5,660.0 1403.5,659.0 1403.5,664.0 C1403.5,668.1 1409.5,667.4 1409.5,671.5 C1409.5,674.8 1400.5,674.2 1400.5,677.5 C1400.5,681.6 1406.5,680.9 1406.5,685.0 C1406.5,688.3 1404.0,689.0 1402.8,691.0" fill="none" stroke="#2f5597" stroke-width="3.8" stroke-linecap="butt" stroke-linejoin="round"/>
<path d="M1156.70,640.68 L1150.04,642.85 L1144.84,638.16 L1146.30,631.32 L1152.96,629.15 L1158.16,633.84Z M1153.13,637.47 L1151.04,638.15 L1149.41,636.68 L1149.87,634.53 L1151.96,633.85 L1153.59,635.32Z" fill="#c40000" fill-rule="evenodd"/><path d="M1153.13,637.47 L1151.04,638.15 L1149.41,636.68 L1149.87,634.53 L1151.96,633.85 L1153.59,635.32Z" fill="#fff"/>
<path d="M1191.59,651.07 L1185.79,654.98 L1179.50,651.91 L1179.01,644.93 L1184.81,641.02 L1191.10,644.09Z M1187.28,648.96 L1185.45,650.19 L1183.48,649.23 L1183.32,647.04 L1185.15,645.81 L1187.12,646.77Z" fill="#c40000" fill-rule="evenodd"/><path d="M1187.28,648.96 L1185.45,650.19 L1183.48,649.23 L1183.32,647.04 L1185.15,645.81 L1187.12,646.77Z" fill="#fff"/>
<path d="M1253.34,629.96 L1247.61,633.97 L1241.27,631.02 L1240.66,624.04 L1246.39,620.03 L1252.73,622.98Z M1248.99,627.93 L1247.19,629.19 L1245.20,628.26 L1245.01,626.07 L1246.81,624.81 L1248.80,625.74Z" fill="#c40000" fill-rule="evenodd"/><path d="M1248.99,627.93 L1247.19,629.19 L1245.20,628.26 L1245.01,626.07 L1246.81,624.81 L1248.80,625.74Z" fill="#fff"/>
<path d="M1177.60,665.70 L1174.10,671.76 L1167.10,671.76 L1163.60,665.70 L1167.10,659.64 L1174.10,659.64Z M1172.80,665.70 L1171.70,667.61 L1169.50,667.61 L1168.40,665.70 L1169.50,663.79 L1171.70,663.79Z" fill="#c40000" fill-rule="evenodd"/><path d="M1172.80,665.70 L1171.70,667.61 L1169.50,667.61 L1168.40,665.70 L1169.50,663.79 L1171.70,663.79Z" fill="#fff"/>
<path d="M1222.30,652.40 L1218.80,658.46 L1211.80,658.46 L1208.30,652.40 L1211.80,646.34 L1218.80,646.34Z M1217.50,652.40 L1216.40,654.31 L1214.20,654.31 L1213.10,652.40 L1214.20,650.49 L1216.40,650.49Z" fill="#c40000" fill-rule="evenodd"/><path d="M1217.50,652.40 L1216.40,654.31 L1214.20,654.31 L1213.10,652.40 L1214.20,650.49 L1216.40,650.49Z" fill="#fff"/>
<path d="M1275.00,646.00 L1271.50,652.06 L1264.50,652.06 L1261.00,646.00 L1264.50,639.94 L1271.50,639.94Z M1270.20,646.00 L1269.10,647.91 L1266.90,647.91 L1265.80,646.00 L1266.90,644.09 L1269.10,644.09Z" fill="#c40000" fill-rule="evenodd"/><path d="M1270.20,646.00 L1269.10,647.91 L1266.90,647.91 L1265.80,646.00 L1266.90,644.09 L1269.10,644.09Z" fill="#fff"/>
<path d="M1300.50,670.00 L1297.00,676.06 L1290.00,676.06 L1286.50,670.00 L1290.00,663.94 L1297.00,663.94Z M1295.70,670.00 L1294.60,671.91 L1292.40,671.91 L1291.30,670.00 L1292.40,668.09 L1294.60,668.09Z" fill="#c40000" fill-rule="evenodd"/><path d="M1295.70,670.00 L1294.60,671.91 L1292.40,671.91 L1291.30,670.00 L1292.40,668.09 L1294.60,668.09Z" fill="#fff"/>
<path d="M1334.76,663.81 L1329.81,668.76 L1323.05,666.95 L1321.24,660.19 L1326.19,655.24 L1332.95,657.05Z M1330.13,662.57 L1328.57,664.13 L1326.44,663.56 L1325.87,661.43 L1327.43,659.87 L1329.56,660.44Z" fill="#c40000" fill-rule="evenodd"/><path d="M1330.13,662.57 L1328.57,664.13 L1326.44,663.56 L1325.87,661.43 L1327.43,659.87 L1329.56,660.44Z" fill="#fff"/>
<path d="M1352.30,637.50 L1348.80,643.56 L1341.80,643.56 L1338.30,637.50 L1341.80,631.44 L1348.80,631.44Z M1347.50,637.50 L1346.40,639.41 L1344.20,639.41 L1343.10,637.50 L1344.20,635.59 L1346.40,635.59Z" fill="#c40000" fill-rule="evenodd"/><path d="M1347.50,637.50 L1346.40,639.41 L1344.20,639.41 L1343.10,637.50 L1344.20,635.59 L1346.40,635.59Z" fill="#fff"/>
<path d="M1358.66,663.96 L1353.46,668.65 L1346.80,666.48 L1345.34,659.64 L1350.54,654.95 L1357.20,657.12Z M1354.09,662.48 L1352.46,663.95 L1350.37,663.27 L1349.91,661.12 L1351.54,659.65 L1353.63,660.33Z" fill="#c40000" fill-rule="evenodd"/><path d="M1354.09,662.48 L1352.46,663.95 L1350.37,663.27 L1349.91,661.12 L1351.54,659.65 L1353.63,660.33Z" fill="#fff"/>
<path d="M1388.16,638.61 L1383.21,643.56 L1376.45,641.75 L1374.64,634.99 L1379.59,630.04 L1386.35,631.85Z M1383.53,637.37 L1381.97,638.93 L1379.84,638.36 L1379.27,636.23 L1380.83,634.67 L1382.96,635.24Z" fill="#c40000" fill-rule="evenodd"/><path d="M1383.53,637.37 L1381.97,638.93 L1379.84,638.36 L1379.27,636.23 L1380.83,634.67 L1382.96,635.24Z" fill="#fff"/>
<path d="M1412.76,643.31 L1407.81,648.26 L1401.05,646.45 L1399.24,639.69 L1404.19,634.74 L1410.95,636.55Z M1408.13,642.07 L1406.57,643.63 L1404.44,643.06 L1403.87,640.93 L1405.43,639.37 L1407.56,639.94Z" fill="#c40000" fill-rule="evenodd"/><path d="M1408.13,642.07 L1406.57,643.63 L1404.44,643.06 L1403.87,640.93 L1405.43,639.37 L1407.56,639.94Z" fill="#fff"/>
</svg>
</div>
</body></html>
